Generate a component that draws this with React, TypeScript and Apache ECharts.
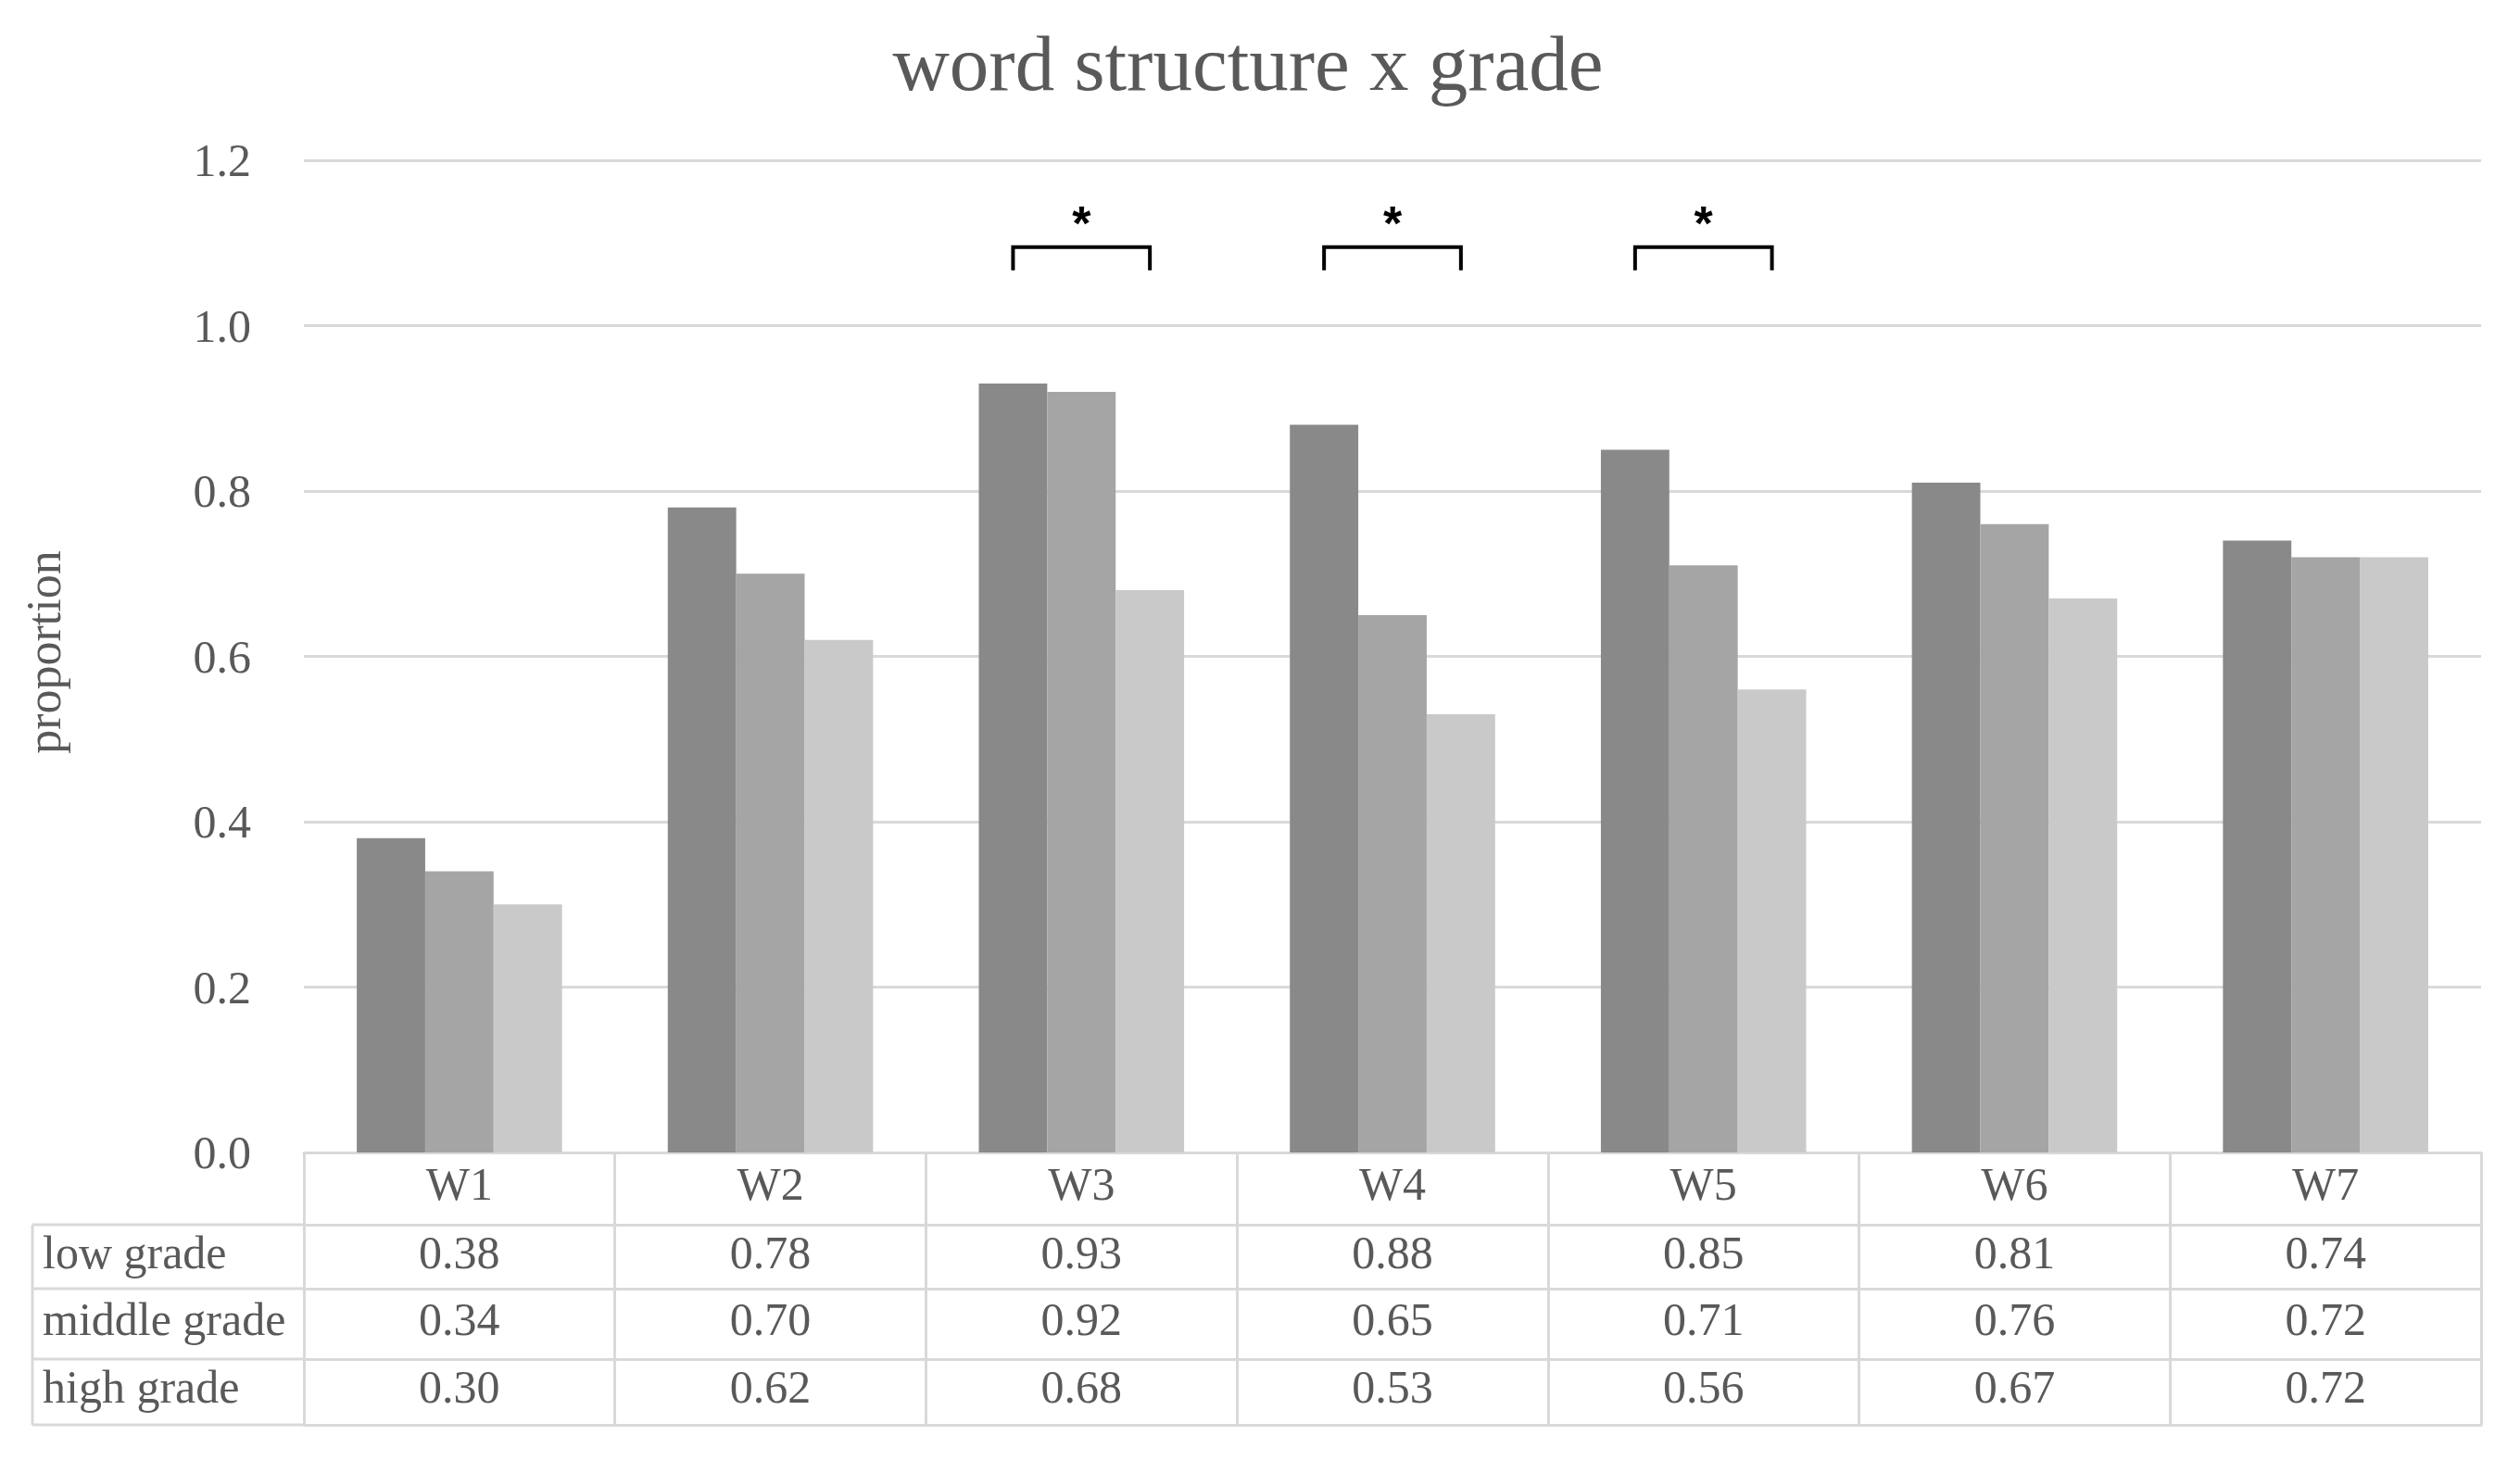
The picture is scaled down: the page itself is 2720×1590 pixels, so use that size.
import React, { useEffect, useRef } from "react";
import * as echarts from "echarts";

// ---------- data ----------
const titleText = "word structure x grade";
const yAxisTitle = "proportion";
const categories = ["W1", "W2", "W3", "W4", "W5", "W6", "W7"];
const seriesNames = ["low grade", "middle grade", "high grade"];
const lowGrade = [0.38, 0.78, 0.93, 0.88, 0.85, 0.81, 0.74];
const middleGrade = [0.34, 0.7, 0.92, 0.65, 0.71, 0.76, 0.72];
const highGrade = [0.3, 0.62, 0.68, 0.53, 0.56, 0.67, 0.72];
const yMin = 0;
const yMax = 1.2;
const yInterval = 0.2;
const significantCategories = ["W3", "W4", "W5"];
const significanceMark = "*";
const bracketLevel = 1.095;

// ---------- styles / layout ----------
const SERIF = "'Liberation Serif', 'Times New Roman', serif";
const TEXT = "#595959";
const LINE = "#d9d9d9";
const BAR_COLORS = ["#898989", "#a5a5a5", "#c9c9c9"];
const GRID_LEFT = 328;
const GRID_RIGHT = 2678;
const GRID_TOP = 173;
const GRID_BOTTOM = 1244;
const ROW_LINES = [1244, 1322, 1391, 1467, 1538];
const ROW_LABEL_CENTERS = [1352, 1424, 1497];
const ROW_LABEL_MARGINS = [5, 8, 5];
const TABLE_LEFT = 35;

export default function App() {
  const ref = useRef<HTMLDivElement>(null);

  useEffect(() => {
    if (!ref.current) return;
    const chart = echarts.init(ref.current, undefined, { renderer: "svg" });
    const seriesValues = [lowGrade, middleGrade, highGrade];

    const labelBase = {
      fontSize: 50,
      lineHeight: 50,
      fontFamily: SERIF,
      color: TEXT,
    };

    const tableAxes = seriesValues.map((vals, k) => ({
      type: "category",
      gridIndex: 0,
      data: categories,
      position: "bottom",
      offset: ROW_LINES[k + 1] - ROW_LINES[0],
      axisLine: { show: true, lineStyle: { color: LINE, width: 3 } },
      axisTick: { show: false },
      splitLine: { show: false },
      axisLabel: {
        ...labelBase,
        margin: ROW_LABEL_MARGINS[k],
        interval: 0,
        formatter: (_v: string, i: number) => vals[i].toFixed(2),
      },
    }));

    const option: any = {
      animation: false,
      backgroundColor: "#ffffff",
      title: {
        text: titleText,
        left: 1342,
        top: 20,
        textAlign: "center",
        textStyle: {
          fontSize: 85,
          lineHeight: 85,
          fontFamily: SERIF,
          fontWeight: "normal",
          color: TEXT,
        },
      },
      grid: {
        left: GRID_LEFT,
        right: 2720 - GRID_RIGHT,
        top: GRID_TOP,
        bottom: 1590 - GRID_BOTTOM,
        containLabel: false,
      },
      xAxis: [
        {
          type: "category",
          data: categories,
          position: "bottom",
          axisLine: { show: true, lineStyle: { color: LINE, width: 3 } },
          axisTick: {
            show: true,
            length: ROW_LINES[ROW_LINES.length - 1] - ROW_LINES[0],
            lineStyle: { color: LINE, width: 3 },
          },
          splitLine: { show: false },
          axisLabel: { ...labelBase, margin: 9, interval: 0 },
        },
        ...tableAxes,
        {
          type: "category",
          data: categories,
          position: "bottom",
          offset: ROW_LINES[ROW_LINES.length - 1] - ROW_LINES[0],
          axisLine: { show: true, lineStyle: { color: LINE, width: 3 } },
          axisTick: { show: false },
          axisLabel: { show: false },
          splitLine: { show: false },
        },
      ],
      yAxis: {
        type: "value",
        min: yMin,
        max: yMax,
        interval: yInterval,
        axisLine: { show: false },
        axisTick: { show: false },
        splitLine: { show: true, lineStyle: { color: LINE, width: 3 } },
        axisLabel: {
          ...labelBase,
          margin: 57,
          formatter: (v: number) => v.toFixed(1),
        },
      },
      series: [
        ...seriesValues.map((vals, k) => ({
          name: seriesNames[k],
          type: "bar",
          xAxisIndex: 0,
          yAxisIndex: 0,
          data: vals,
          barGap: "0%",
          barCategoryGap: "34%",
          itemStyle: { color: BAR_COLORS[k] },
          silent: true,
        })),
        {
          type: "custom",
          name: "significance",
          xAxisIndex: 0,
          yAxisIndex: 0,
          data: significantCategories.map((c) => [c, bracketLevel]),
          encode: { x: 0, y: 1 },
          silent: true,
          z: 10,
          renderItem: (_params: any, api: any) => {
            const p = api.coord([api.value(0), api.value(1)]);
            const band = api.size([1, 0])[0];
            const half = band * 0.22;
            const leg = 25;
            return {
              type: "group",
              children: [
                {
                  type: "polyline",
                  shape: {
                    points: [
                      [p[0] - half, p[1] + leg],
                      [p[0] - half, p[1]],
                      [p[0] + half, p[1]],
                      [p[0] + half, p[1] + leg],
                    ],
                  },
                  style: { stroke: "#000000", lineWidth: 4, fill: null },
                },
                {
                  type: "text",
                  x: p[0],
                  y: p[1] - 26,
                  style: {
                    text: significanceMark,
                    font: "bold 52px 'Liberation Sans', Arial, sans-serif",
                    fill: "#000000",
                    textAlign: "center",
                    textVerticalAlign: "middle",
                  },
                },
              ],
            };
          },
        },
      ],
      graphic: [
        // y axis title
        {
          type: "text",
          x: 47.5,
          y: 704,
          rotation: Math.PI / 2,
          style: {
            text: yAxisTitle,
            font: `52px ${SERIF}`,
            fill: TEXT,
            textAlign: "center",
            textVerticalAlign: "middle",
          },
        },
        // data table: row-label column
        ...ROW_LINES.slice(1).map((y) => ({
          type: "line",
          shape: { x1: TABLE_LEFT, y1: y, x2: GRID_LEFT, y2: y },
          style: { stroke: LINE, lineWidth: 3 },
        })),
        {
          type: "line",
          shape: {
            x1: TABLE_LEFT,
            y1: ROW_LINES[1],
            x2: TABLE_LEFT,
            y2: ROW_LINES[ROW_LINES.length - 1],
          },
          style: { stroke: LINE, lineWidth: 3 },
        },
        ...seriesNames.map((name, k) => ({
          type: "text",
          x: 46,
          y: ROW_LABEL_CENTERS[k],
          style: {
            text: name,
            font: `50px ${SERIF}`,
            fill: TEXT,
            textAlign: "left",
            textVerticalAlign: "middle",
          },
        })),
      ],
    };

    chart.setOption(option);
    return () => chart.dispose();
  }, []);

  return (
    <div
      ref={ref}
      style={{
        position: "fixed",
        left: 0,
        top: 0,
        width: 2720,
        height: 1590,
        background: "#ffffff",
      }}
    />
  );
}
